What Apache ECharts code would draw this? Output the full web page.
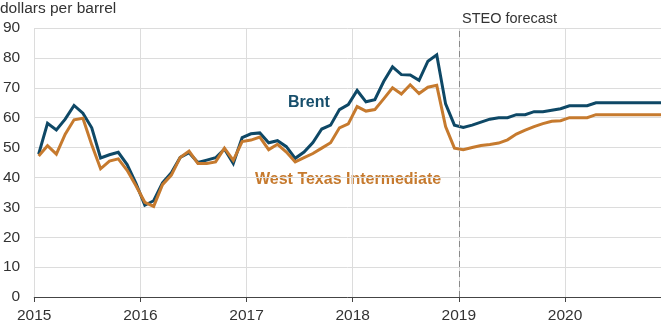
<!DOCTYPE html>
<html><head><meta charset="utf-8">
<script src="https://cdn.jsdelivr.net/npm/echarts@6/dist/echarts.min.js"></script>
<style>html,body{margin:0;padding:0;background:#fff}#c{width:661px;height:327px}</style>
</head><body><div id="c"></div>
<script>
const startYear = 2015;
const yTicks = [0,10,20,30,40,50,60,70,80,90];
const brent = [
  47.8, 58.1, 55.9, 59.5, 64.1, 61.5, 56.6, 46.5, 47.6, 48.4, 44.3, 38.0,
  30.7, 32.2, 38.2, 41.6, 46.7, 48.3, 45.0, 45.8, 46.6, 49.5, 44.7, 53.3,
  54.6, 54.9, 51.6, 52.3, 50.3, 46.4, 48.5, 51.7, 56.2, 57.5, 62.7, 64.4,
  69.1, 65.3, 66.0, 72.1, 77.0, 74.4, 74.3, 72.5, 78.9, 81.0, 64.6, 57.5,
  56.7, 57.5, 58.5, 59.5, 60.0, 60.0, 61.0, 61.0, 62.0, 62.0, 62.5, 63.0,
  64.0, 64.0, 64.0, 65.0, 65.0, 65.0, 65.0, 65.0, 65.0, 65.0, 65.0, 65.0
];
const wti = [
  47.2, 50.6, 47.8, 54.5, 59.3, 59.8, 50.9, 42.9, 45.5, 46.2, 42.4, 37.2,
  31.7, 30.3, 37.6, 40.8, 46.7, 48.8, 44.7, 44.7, 45.2, 49.8, 45.7, 52.0,
  52.5, 53.5, 49.3, 51.1, 48.5, 45.2, 46.6, 48.0, 49.8, 51.6, 56.6, 57.9,
  63.7, 62.2, 62.7, 66.3, 70.0, 67.9, 71.0, 68.1, 70.2, 70.8, 57.0, 49.8,
  49.3, 50.0, 50.7, 51.0, 51.5, 52.6, 54.5, 55.8, 57.0, 58.0, 58.8, 59.0,
  60.0, 60.0, 60.0, 61.0, 61.0, 61.0, 61.0, 61.0, 61.0, 61.0, 61.0, 61.0
];
const forecastStart = 48; // months from Jan 2015 (Jan 2019)

const toPts = arr => arr.map((v, i) => [i + 0.5, v]);
const chart = echarts.init(document.getElementById('c'), null, {renderer: 'canvas'});
const txt = '#333333';
chart.setOption({
  animation: false,
  grid: {left: 30, right: 0, top: 28, bottom: 30},
  xAxis: {
    type: 'value', min: 0, max: 70.85, interval: 12,
    axisLine: {show: true, lineStyle: {color: '#444', width: 1}},
    axisTick: {show: true, length: 5, lineStyle: {color: '#444'}},
    axisLabel: {
      fontFamily: 'Liberation Sans, Arial, sans-serif', fontSize: 15.5, color: txt, margin: 11,
      showMaxLabel: false,
      formatter: v => (Math.abs(v % 12) < 1e-6 ? String(startYear + v / 12) : '')
    },
    splitLine: {show: true, showMaxLine: false, lineStyle: {color: '#dcdcdc', width: 1}}
  },
  yAxis: {
    type: 'value', min: 0, max: 90, interval: 10,
    axisLine: {show: false}, axisTick: {show: false},
    axisLabel: {fontFamily: 'Liberation Sans, Arial, sans-serif', fontSize: 15.5, color: txt, margin: 14},
    splitLine: {show: true, lineStyle: {color: '#dcdcdc', width: 1}}
  },
  series: [
    {
      name: 'Brent', type: 'line', data: toPts(brent), showSymbol: false, symbol: 'none',
      lineStyle: {color: '#0e4866', width: 3, join: 'miter'}, z: 3,
      markLine: {
        silent: true, symbol: 'none', label: {show: false},
        lineStyle: {color: '#8a8a8a', type: [6, 4], width: 1},
        data: [{xAxis: forecastStart}]
      }
    },
    {
      name: 'West Texas Intermediate', type: 'line', data: toPts(wti), showSymbol: false, symbol: 'none',
      lineStyle: {color: '#c67a2e', width: 3, join: 'miter'}, z: 4
    }
  ],
  graphic: [
    {type: 'text', left: 0, top: 1, style: {text: 'dollars per barrel', fontFamily: 'Liberation Sans, Arial, sans-serif', fontSize: 15.5, fill: txt}},
    {type: 'text', left: 462, top: 11, style: {text: 'STEO forecast', fontFamily: 'Liberation Sans, Arial, sans-serif', fontSize: 14.5, fill: txt}},
    {type: 'text', left: 288, top: 95, style: {text: 'Brent', fontFamily: 'Liberation Sans, Arial, sans-serif', fontWeight: 'bold', fontSize: 16, fill: '#184f6c'}},
    {type: 'text', left: 255, top: 172, style: {text: 'West Texas Intermediate', fontFamily: 'Liberation Sans, Arial, sans-serif', fontWeight: 'bold', fontSize: 16, fill: '#c67a2e'}}
  ]
});
</script></body></html>
